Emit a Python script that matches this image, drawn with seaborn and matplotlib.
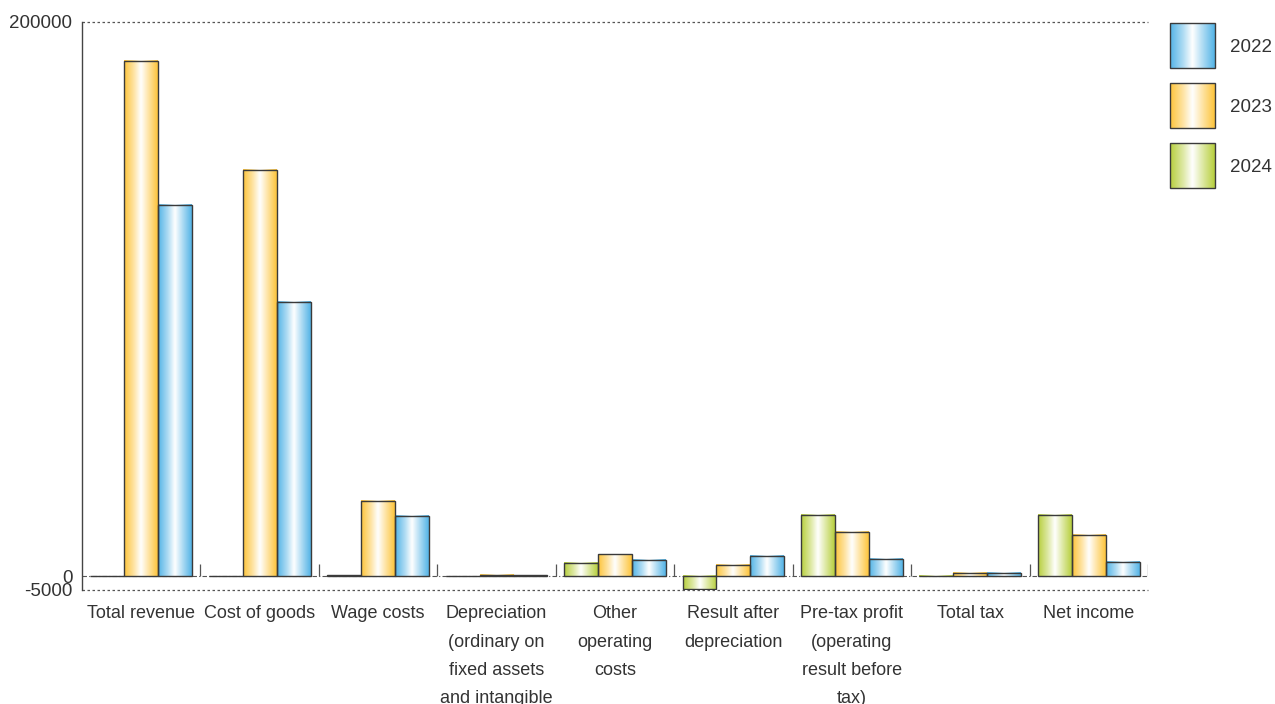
import numpy as np
import pandas as pd
import matplotlib
matplotlib.use("Agg")
import matplotlib.pyplot as plt
from matplotlib.colors import LinearSegmentedColormap, to_rgb
from matplotlib.patches import Rectangle
import seaborn as sns

# ---- data -------------------------------------------------------------
categories = [
    "Total revenue", "Cost of goods", "Wage costs", "Depreciation",
    "Other operating costs", "Result after depreciation", "Pre-tax profit",
    "Total tax", "Net income",
]
tick_labels = [
    "Total revenue", "Cost of goods", "Wage costs",
    "Depreciation\n(ordinary on\nfixed assets\nand intangible",
    "Other\noperating\ncosts", "Result after\ndepreciation",
    "Pre-tax profit\n(operating\nresult before\ntax)", "Total tax", "Net income",
]
years = ["2024", "2023", "2022"]
values_2024 = [0, 0, 300, 0, 4700, -4800, 22100, 100, 22200]
values_2023 = [186000, 146600, 27100, 400, 7900, 4000, 16000, 1100, 14800]
values_2022 = [133900, 98900, 21700, 300, 5800, 7300, 6200, 1100, 5100]
y_ticks = [-5000, 0, 200000]

colors = {"2022": "#52b3e6", "2023": "#fdc43a", "2024": "#b7cf3c"}
edge = "#3a3a3a"
text_color = "#333333"

df = pd.DataFrame({
    "category": categories * 3,
    "year": ["2024"] * 9 + ["2023"] * 9 + ["2022"] * 9,
    "value": values_2024 + values_2023 + values_2022,
})

# ---- figure -----------------------------------------------------------
sns.set_theme(style="white")
plt.rcParams["font.family"] = ["Liberation Sans", "DejaVu Sans"]

fig = plt.figure(figsize=(12.75, 7.04), dpi=100)
ax = fig.add_axes([82 / 1275, 1 - 590 / 704, (1148 - 82) / 1275, (590 - 22) / 704])

sns.barplot(data=df, x="category", y="value", hue="year", hue_order=years,
            order=categories, palette=colors, width=0.86, gap=0,
            edgecolor=edge, linewidth=1.0, legend=False, ax=ax)


def gradient_cmap(color):
    c = np.array(to_rgb(color))
    light = c * 0.45 + 0.55
    return LinearSegmentedColormap.from_list(
        "grad", [(0.0, c), (0.3, light), (0.5, (1, 1, 1)), (0.72, light), (1.0, c)])


grad = np.linspace(0, 1, 256).reshape(1, -1)
base_rgb = {y: np.array(to_rgb(c)) for y, c in colors.items()}

for p in list(ax.patches):
    fc = np.array(p.get_facecolor()[:3])
    year = min(base_rgb, key=lambda k: np.abs(base_rgb[k] - fc).sum())
    x, y0 = p.get_x(), p.get_y()
    w, h = p.get_width(), p.get_height()
    lo, hi = min(y0, y0 + h), max(y0, y0 + h)
    if hi - lo > 0:
        ax.imshow(grad, cmap=gradient_cmap(colors[year]), extent=[x, x + w, lo, hi],
                  aspect="auto", origin="lower", interpolation="bicubic", zorder=1.5)
    p.set_facecolor("none")
    p.set_zorder(2)

ax.set_xlim(-0.5, len(categories) - 0.5)
ax.set_ylim(y_ticks[0], y_ticks[-1])

# reference lines
ax.axhline(y_ticks[-1], color="#555555", lw=0.9, ls=(0, (2, 2)), clip_on=False, zorder=0.5)
ax.axhline(y_ticks[0], color="#555555", lw=0.9, ls=(0, (2, 2)), clip_on=False, zorder=0.5)
ax.axhline(0, color="#555555", lw=0.8, ls=(0, (4, 2, 1, 2)), zorder=0.5)

# group separators
seps = np.arange(len(categories)) + 0.5
ax.vlines(seps, 0, 4500, color="#555555", lw=0.9, zorder=1)

# axes styling
for s in ["top", "right", "bottom"]:
    ax.spines[s].set_visible(False)
ax.spines["left"].set_color("#444444")
ax.spines["left"].set_linewidth(1.0)
ax.set_yticks(y_ticks)
ax.set_yticklabels([str(v) for v in y_ticks])
ax.set_xticks(range(len(categories)))
ax.set_xticklabels(tick_labels)
ax.tick_params(axis="y", length=0, pad=7, labelsize=13.5, labelcolor=text_color)
ax.tick_params(axis="x", length=0, pad=11, labelsize=13, labelcolor=text_color)
for lbl in ax.get_xticklabels():
    lbl.set_linespacing(1.87)
    lbl.set_verticalalignment("top")
ax.set_xlabel("")
ax.set_ylabel("")
ax.grid(False)

# legend with gradient swatches
lax = fig.add_axes([1160 / 1275, 1 - 200 / 704, 115 / 1275, 190 / 704])
lax.axis("off")
for i, yr in enumerate(["2022", "2023", "2024"]):
    top = 23 + 60 * i
    lax.imshow(grad, cmap=gradient_cmap(colors[yr]), extent=[1170, 1215, top + 45, top],
               aspect="auto", interpolation="bicubic", zorder=1)
    lax.add_patch(Rectangle((1170, top), 45, 45, facecolor="none", edgecolor=edge,
                            lw=1.0, zorder=2))
    lax.text(1230, top + 24, yr, va="center", ha="left", fontsize=13.5, color=text_color)
lax.set_xlim(1160, 1275)
lax.set_ylim(200, 10)

fig.savefig("out.png", dpi=100)
